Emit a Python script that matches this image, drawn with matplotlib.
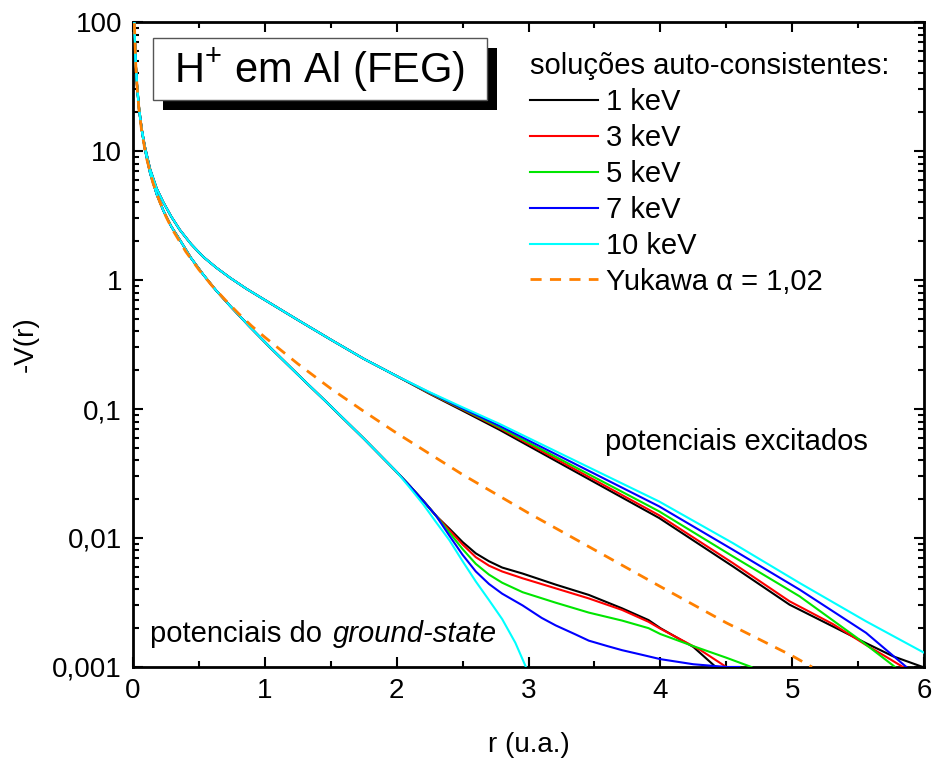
import matplotlib
matplotlib.use("Agg")
import matplotlib.pyplot as plt
from matplotlib.patches import Rectangle
from matplotlib.ticker import FixedLocator, FixedFormatter, LogLocator, NullFormatter, MultipleLocator

plt.rcParams['font.family'] = ['Liberation Sans', 'DejaVu Sans']
plt.rcParams['mathtext.fontset'] = 'custom'
plt.rcParams['mathtext.rm'] = 'Liberation Sans'
plt.rcParams['mathtext.it'] = 'Liberation Sans:italic'

# --- data ---
# shared part of the ground-state potentials (r < ~2.3)
r_gs = [0.01, 0.02, 0.03, 0.045, 0.066, 0.09, 0.13, 0.18, 0.23, 0.29, 0.356, 0.44, 0.533,
        0.63, 0.736, 0.88, 1.04, 1.25, 1.5, 1.75, 2.0, 2.1, 2.2, 2.3]
v_gs = [98, 48, 32, 21, 14.5, 10.3, 6.7, 4.6, 3.45, 2.6, 2.04, 1.48, 1.1,
        0.83, 0.63, 0.44, 0.30, 0.185, 0.105, 0.059, 0.0325, 0.0253, 0.0195, 0.0148]

# ground-state tails
r_gs1 = [2.4, 2.5, 2.6, 2.7, 2.8, 2.955, 3.206, 3.457, 3.709, 3.91, 4.0, 4.25, 4.42]
v_gs1 = [0.0118, 0.0093, 0.0076, 0.0066, 0.0059, 0.0053, 0.00435, 0.00362, 0.00285, 0.00231,
         0.0020, 0.00143, 0.001]
r_gs3 = [2.4, 2.5, 2.6, 2.7, 2.8, 2.955, 3.206, 3.457, 3.709, 3.91, 4.0, 4.30, 4.50]
v_gs3 = [0.0115, 0.0089, 0.0071, 0.0061, 0.0055, 0.00487, 0.00407, 0.0034, 0.00277, 0.00224,
         0.00198, 0.00136, 0.001]
r_gs5 = [2.4, 2.5, 2.6, 2.7, 2.8, 2.955, 3.206, 3.457, 3.709, 3.91, 4.0, 4.25, 4.5, 4.69]
v_gs5 = [0.0110, 0.0082, 0.0063, 0.0052, 0.0045, 0.0038, 0.00315, 0.00264, 0.00229, 0.0020,
         0.0018, 0.00145, 0.00118, 0.001]
r_gs7 = [2.4, 2.5, 2.6, 2.7, 2.8, 2.955, 3.1, 3.206, 3.35, 3.457, 3.6, 3.709, 3.85, 4.0,
         4.25, 4.5, 4.6]
v_gs7 = [0.0104, 0.0074, 0.0055, 0.0044, 0.0037, 0.0030, 0.0024, 0.0021, 0.0018, 0.0016,
         0.00145, 0.00135, 0.00125, 0.00115, 0.00105, 0.001, 0.001]
r_gs10 = [2.1, 2.2, 2.3, 2.4, 2.5, 2.6, 2.7, 2.8, 2.9, 2.98]
v_gs10 = [0.0245, 0.0183, 0.0132, 0.0096, 0.0066, 0.0046, 0.0033, 0.00235, 0.00154, 0.001]

# shared part of the excited potentials (r < ~2)
r_ex = [0.01, 0.02, 0.03, 0.045, 0.066, 0.09, 0.13, 0.18, 0.23, 0.29, 0.356, 0.44, 0.533,
        0.63, 0.736, 0.86, 1.0, 1.25, 1.5, 1.75, 2.0]
v_ex = [98, 49, 33, 22, 14.8, 10.8, 7.2, 5.1, 4.0, 3.1, 2.44, 1.9, 1.51,
        1.25, 1.04, 0.855, 0.70, 0.49, 0.345, 0.245, 0.18]

# excited tails
r_ex1 = [2.25, 2.5, 2.777, 3.99, 4.549, 4.98, 5.309, 5.56, 5.765, 5.99]
v_ex1 = [0.131, 0.097, 0.0692, 0.0143, 0.00603, 0.00304, 0.00206, 0.00153, 0.00121, 0.001]
r_ex3 = [2.25, 2.5, 2.777, 3.99, 4.549, 4.98, 5.309, 5.56, 5.70, 5.84]
v_ex3 = [0.132, 0.099, 0.0713, 0.0150, 0.0064, 0.00323, 0.00215, 0.00148, 0.00122, 0.001]
r_ex5 = [2.25, 2.5, 2.777, 3.99, 4.549, 5.056, 5.51, 5.78]
v_ex5 = [0.133, 0.100, 0.0725, 0.0161, 0.00721, 0.00353, 0.00163, 0.001]
r_ex7 = [2.25, 2.5, 2.777, 3.99, 4.549, 5.056, 5.56, 5.866]
v_ex7 = [0.134, 0.101, 0.0743, 0.0176, 0.00812, 0.00398, 0.00184, 0.001]
r_ex10 = [2.25, 2.5, 2.777, 3.99, 4.549, 5.056, 5.56, 6.0]
v_ex10 = [0.135, 0.103, 0.0769, 0.0192, 0.00914, 0.00448, 0.00226, 0.00129]

# Yukawa curve
r_yk = [0.01, 0.02, 0.03, 0.045, 0.066, 0.1, 0.15, 0.2, 0.25, 0.3, 0.4, 0.5, 0.6, 0.7,
        0.8, 0.9, 1.0, 1.25, 1.5, 1.75, 2.0, 2.5, 3.0, 3.5, 4.0, 4.5, 5.0, 5.15]
v_yk = [98, 48, 32, 21, 14.2, 9.0, 5.7, 4.1, 3.1, 2.45, 1.66, 1.2, 0.9, 0.70,
        0.55, 0.44, 0.36, 0.224, 0.144, 0.096, 0.065, 0.031, 0.0156, 0.0081, 0.0042,
        0.0022, 0.00122, 0.001]

labels = ['1 keV', '3 keV', '5 keV', '7 keV', '10 keV']
colors = ['black', '#ff0000', '#00e600', '#0000ff', '#00ffff']
gs_tails = [(r_gs1, v_gs1), (r_gs3, v_gs3), (r_gs5, v_gs5), (r_gs7, v_gs7), (r_gs10, v_gs10)]
ex_tails = [(r_ex1, v_ex1), (r_ex3, v_ex3), (r_ex5, v_ex5), (r_ex7, v_ex7), (r_ex10, v_ex10)]

fig = plt.figure(figsize=(9.33, 7.6), dpi=100)
ax = fig.add_axes([0.1426, 0.1224, 0.8478, 0.8486])

for i in range(5):
    rg, vg = gs_tails[i]
    if i == 4:
        rr = r_gs[:-3] + rg
        vv = v_gs[:-3] + vg
    else:
        rr = r_gs + rg
        vv = v_gs + vg
    ax.plot(rr, vv, color=colors[i], lw=1.5, zorder=3 + i * 0.1)
    re_, ve_ = ex_tails[i]
    ax.plot(r_ex + re_, v_ex + ve_, color=colors[i], lw=1.5, label=labels[i], zorder=3 + i * 0.1)

ax.plot(r_yk, v_yk, color='#ff8000', lw=2, ls=(0, (4, 3)), label='Yukawa α = 1,02', zorder=4)

ax.set_yscale('log')
ax.set_xlim(0, 6)
ax.set_ylim(0.001, 100)

ax.yaxis.set_major_locator(FixedLocator([0.001, 0.01, 0.1, 1, 10, 100]))
ax.yaxis.set_major_formatter(FixedFormatter(['0,001', '0,01', '0,1', '1', '10', '100']))
ax.yaxis.set_minor_locator(LogLocator(base=10, subs=range(2, 10)))
ax.yaxis.set_minor_formatter(NullFormatter())
ax.xaxis.set_major_locator(MultipleLocator(1))
ax.xaxis.set_minor_locator(MultipleLocator(0.5))

ax.tick_params(which='both', direction='in', top=True, right=True, width=1.5, labelsize=20)
ax.tick_params(which='major', length=7, pad=8)
ax.tick_params(which='minor', length=4)
for s in ax.spines.values():
    s.set_linewidth(2)

ax.set_xlabel('r (u.a.)', fontsize=20, labelpad=20)
ax.set_ylabel('-V(r)', fontsize=20, labelpad=10)

leg = ax.legend(loc='upper left', bbox_to_anchor=(0.494, 0.962), frameon=False, fontsize=21,
                title='soluções auto-consistentes:', title_fontsize=21, alignment='left',
                handlelength=2.33, handletextpad=0.28, labelspacing=0.27, borderpad=0.2,
                borderaxespad=0)

# title box with shadow
ax.add_patch(Rectangle((0.038, 0.863), 0.422, 0.097, transform=ax.transAxes,
                       facecolor='black', edgecolor='none', zorder=5))
ax.add_patch(Rectangle((0.0253, 0.879), 0.4222, 0.097, transform=ax.transAxes,
                       facecolor='white', edgecolor='#555555', lw=1, zorder=6))
ax.text(0.236, 0.926, r'$\mathrm{H}^{+}$ em Al (FEG)', transform=ax.transAxes,
        fontsize=30, ha='center', va='center', zorder=7)

ax.text(0.597, 0.349, 'potenciais excitados', transform=ax.transAxes, fontsize=21,
        ha='left', va='center')
ax.text(0.0215, 0.051, 'potenciais do', transform=ax.transAxes, fontsize=21,
        ha='left', va='center')
ax.text(0.253, 0.051, 'ground-state', transform=ax.transAxes, fontsize=21, ha='left',
        va='center', style='italic')

plt.savefig('out.png', dpi=100)
